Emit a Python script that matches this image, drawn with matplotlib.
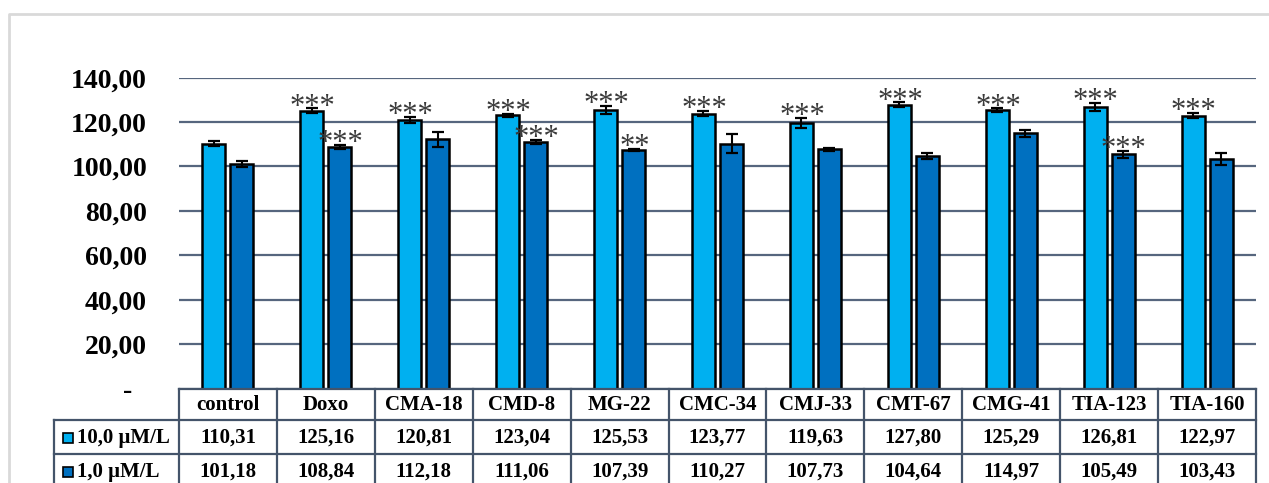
import numpy as np
import matplotlib.pyplot as plt
from matplotlib.patches import Rectangle

# ===== Data ===================================================================

categories = ["control", "Doxo", "CMA-18", "CMD-8", "MG-22", "CMC-34",
              "CMJ-33", "CMT-67", "CMG-41", "TIA-123", "TIA-160"]
series_names = ["10,0 \u03bcM/L", "1,0 \u03bcM/L"]

high_dose = [110.31, 125.16, 120.81, 123.04, 125.53, 123.77,
             119.63, 127.80, 125.29, 126.81, 122.97]
low_dose = [101.18, 108.84, 112.18, 111.06, 107.39, 110.27,
            107.73, 104.64, 114.97, 105.49, 103.43]

high_err = [1.2, 1.0, 1.4, 0.6, 1.7, 1.2, 2.2, 1.1, 0.9, 1.7, 1.3]
low_err = [1.3, 0.9, 3.3, 0.8, 0.5, 4.2, 0.7, 1.4, 1.5, 1.6, 2.6]

high_sig = ["", "***", "***", "***", "***", "***",
            "***", "***", "***", "***", "***"]
low_sig = ["", "***", "", "***", "**", "", "", "", "", "***", ""]

yticks = [0, 20, 40, 60, 80, 100, 120, 140]

# ===== Styling ================================================================

W, H = 1269, 483
light_blue = "#00b0f0"
dark_blue = "#0070c0"
grid_color = "#56667e"
table_color = "#44546a"

plt.rcParams["font.family"] = ["Liberation Serif", "DejaVu Serif"]

fig = plt.figure(figsize=(W / 100, H / 100), dpi=100)

# plot area in pixels
left, right = 179, 1256
top, bottom = 77.7, 388.5
ax = fig.add_axes([left / W, (H - bottom) / H, (right - left) / W,
                   (bottom - top) / H])

x = np.arange(len(categories))
bw = 0.235
off = 0.143

ax.bar(x - off, high_dose, bw, color=light_blue, edgecolor="black",
       linewidth=1.8, zorder=3)
ax.bar(x + off, low_dose, bw, color=dark_blue, edgecolor="black",
       linewidth=1.8, zorder=3)
ax.errorbar(x - off, high_dose, yerr=high_err, fmt="none", ecolor="black",
            elinewidth=1.5, capsize=4.3, capthick=1.6, zorder=4)
ax.errorbar(x + off, low_dose, yerr=low_err, fmt="none", ecolor="black",
            elinewidth=1.5, capsize=4.3, capthick=1.6, zorder=4)

# significance marks above the error bars
for xs, vals, errs, sigs in [(x - off, high_dose, high_err, high_sig),
                             (x + off, low_dose, low_err, low_sig)]:
    for xi, v, e, s in zip(xs, vals, errs, sigs):
        if s:
            ax.annotate(s, (xi, v + e), xytext=(0.5, -4.5),
                        textcoords="offset points", ha="center",
                        va="baseline", fontsize=22, color="#3a3a3a",
                        zorder=5, annotation_clip=False)

ax.set_xlim(-0.5, len(categories) - 0.5)
ax.set_ylim(0, 140)
ax.set_xticks([])
ax.set_yticks(yticks)
ax.set_yticklabels(["" if t == 0 else f"{t:.2f}".replace(".", ",")
                    for t in yticks], fontsize=20, fontweight="bold")
ax.tick_params(axis="y", length=0, pad=23)
ax.text(-0.043, -1.2, "-", transform=ax.get_yaxis_transform(), ha="right",
        va="center", fontsize=20, fontweight="bold")
for sp in ax.spines.values():
    sp.set_visible(False)
ax.yaxis.grid(True, color=grid_color, linewidth=1.6, zorder=0)
ax.set_axisbelow(True)
ax.patch.set_alpha(0)

# ===== Data table under the chart =============================================

tab = fig.add_axes([0, 0, 1, 1])
tab.set_xlim(0, W)
tab.set_ylim(H, 0)
tab.axis("off")
tab.patch.set_alpha(0)

# light frame around the chart
tab.plot([9, 9, W + 5], [H + 5, 13.5, 13.5], color="#d9d9d9", lw=2,
         clip_on=False)

colw = (right - left) / len(categories)
label_left = 54
row_y = [389, 420, 454, 488]

tab.plot([left, right], [row_y[0], row_y[0]], color=table_color, lw=1.6)
for ry in row_y[1:3]:
    tab.plot([label_left, right], [ry, ry], color=table_color, lw=1.6)
for i in range(len(categories) + 1):
    cx = left + i * colw
    tab.plot([cx, cx], [row_y[0], H + 5], color=table_color, lw=1.6,
             clip_on=False)
tab.plot([label_left, label_left], [row_y[1], H + 5], color=table_color,
         lw=1.6, clip_on=False)

txt = dict(fontsize=15, fontweight="bold", ha="center", va="center")
for i, name in enumerate(categories):
    cx = left + (i + 0.5) * colw
    tab.text(cx, (row_y[0] + row_y[1]) / 2 + 1, name, **txt)
    tab.text(cx, (row_y[1] + row_y[2]) / 2 + 1,
             f"{high_dose[i]:.2f}".replace(".", ","), **txt)
    tab.text(cx, (row_y[2] + row_y[3]) / 2 + 1,
             f"{low_dose[i]:.2f}".replace(".", ","), **txt)

for r, (name, col) in enumerate(zip(series_names, [light_blue, dark_blue])):
    cy = (row_y[r + 1] + row_y[r + 2]) / 2 + 1
    tab.add_patch(Rectangle((63, cy - 5), 10, 10, facecolor=col,
                            edgecolor="black", lw=1.2))
    tab.text(77, cy, name, fontsize=15, fontweight="bold", ha="left",
             va="center")

fig.savefig("out.png", dpi=100)
